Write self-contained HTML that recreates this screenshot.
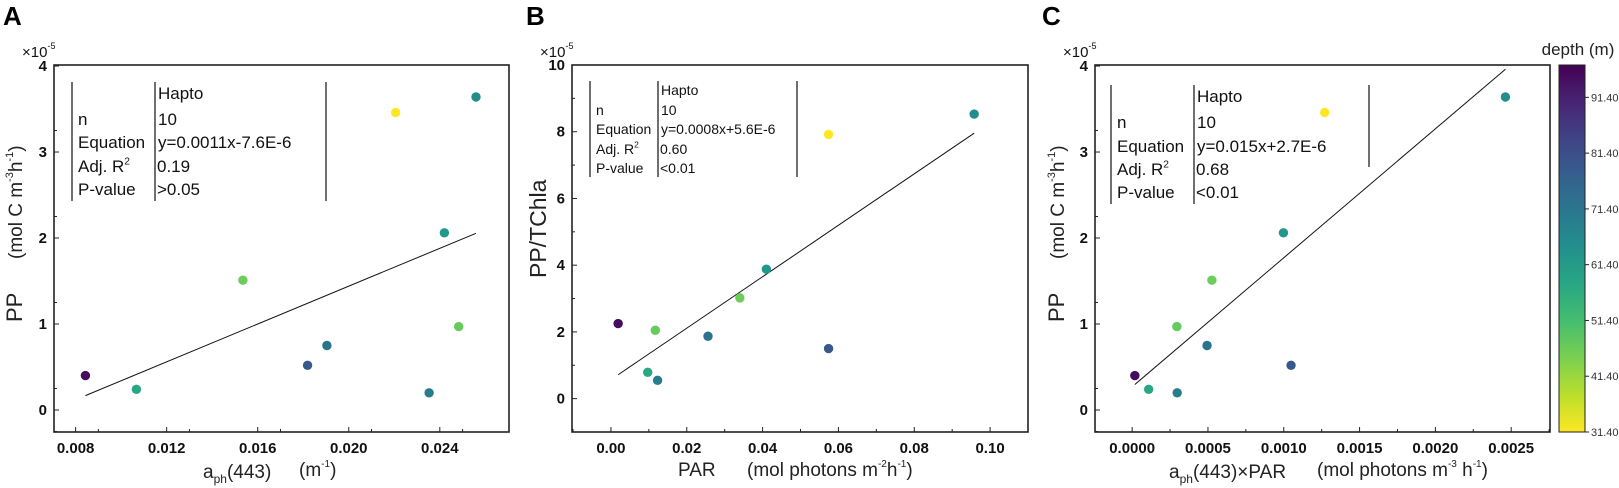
<!DOCTYPE html>
<html><head><meta charset="utf-8">
<style>
html,body{margin:0;padding:0;background:#fff;}
svg{display:block;font-family:"Liberation Sans",sans-serif;}
.tk{font-weight:bold;font-size:15px;fill:#111;}
.st{fill:#111;}
</style></head>
<body>
<svg id="fig" width="1619" height="488" viewBox="0 0 1619 488" xmlns="http://www.w3.org/2000/svg">
  <text x="3" y="25" font-size="26" font-weight="bold">A</text>
  <text x="526" y="25" font-size="26" font-weight="bold">B</text>
  <text x="1042" y="25" font-size="26" font-weight="bold">C</text>
</svg>
<script>
// ---- data ----
const depth = [95, 58, 46, 79, 72, 31.4, 70, 62, 47, 65];
const ppValues = [0.40, 0.24, 1.51, 0.52, 0.75, 3.46, 0.20, 2.06, 0.97, 3.64];
const aphValues = [0.00843, 0.01067, 0.01535, 0.01819, 0.01904, 0.02206, 0.02353, 0.02420, 0.02483, 0.02559];
const parValues = [0.0019, 0.0097, 0.0340, 0.0574, 0.0256, 0.0574, 0.0123, 0.0410, 0.0117, 0.0958];
const ppChlValues = [2.25, 0.79, 3.02, 1.50, 1.87, 7.92, 0.55, 3.88, 2.05, 8.53];
const aphParValues = [0.0000178, 0.000109, 0.000526, 0.001048, 0.000494, 0.00127, 0.000297, 0.000998, 0.000295, 0.002462];
const fitA = [110, -0.76];
const fitB = [77.1, 0.57];
const fitC = [1500, 0.27];
const ticksAx = ["0.008","0.012","0.016","0.020","0.024"];
const ticksBx = ["0.00","0.02","0.04","0.06","0.08","0.10"];
const ticksCx = ["0.0000","0.0005","0.0010","0.0015","0.0020","0.0025"];
const ticksPPy = ["0","1","2","3","4"];
const ticksBy = ["0","2","4","6","8","10"];
const cbTicks = ["31.40","41.40","51.40","61.40","71.40","81.40","91.40"];
const depthRange = [31.4, 97.2];

const NS = "http://www.w3.org/2000/svg";
const svg = document.getElementById('fig');
function mk(tag, attrs, parent, txt){
  const e = document.createElementNS(NS, tag);
  for (const k in attrs) e.setAttribute(k, attrs[k]);
  if (txt !== undefined) e.textContent = txt;
  (parent||svg).appendChild(e);
  return e;
}
const vir = [[68,1,84],[72,40,120],[62,74,137],[49,104,142],[38,130,142],[31,158,137],[53,183,121],[109,205,89],[180,222,44],[253,231,37]];
function viridis(t){
  t=Math.max(0,Math.min(1,t));
  const p=t*(vir.length-1), i=Math.min(vir.length-2,Math.floor(p)), f=p-i;
  const c=vir[i].map((v,k)=>Math.round(v+(vir[i+1][k]-v)*f));
  return `rgb(${c[0]},${c[1]},${c[2]})`;
}
function depthColor(d){ return viridis((depthRange[1]-d)/(depthRange[1]-depthRange[0])); }

function panel(cfg){
  const g = mk('g', {});
  
  
  const X = v => cfg.x0 + (v - cfg.xmin) / (cfg.xmax - cfg.xmin) * (cfg.x1 - cfg.x0);
  const Y = v => cfg.y1 - (v - cfg.ymin) / (cfg.ymax - cfg.ymin) * (cfg.y1 - cfg.y0);
  const tg = mk('g', {stroke:'#222','stroke-width':1}, g);
  cfg.xt.forEach((lab,i)=>{
    const v = parseFloat(lab); const px = X(v);
    mk('line',{x1:px,x2:px,y1:cfg.y1,y2:cfg.y1-5},tg);
    const t = mk('text',{x:px,y:cfg.y1+21,'text-anchor':'middle','class':'tk'},g,lab);
    
    
    const m = X(v + cfg.xstep/2); if (m < cfg.x1) mk('line',{x1:m,x2:m,y1:cfg.y1,y2:cfg.y1-3},tg);
  });
  const mfirst = X(parseFloat(cfg.xt[0]) - cfg.xstep/2); if (mfirst > cfg.x0) mk('line',{x1:mfirst,x2:mfirst,y1:cfg.y1,y2:cfg.y1-3},tg);
  cfg.yt.forEach(lab=>{
    const v = parseFloat(lab); const py = Y(v);
    mk('line',{x1:cfg.x0,x2:cfg.x0+5,y1:py,y2:py},tg);
    const t = mk('text',{x:cfg.x0-7,y:py+5,'text-anchor':'end','class':'tk'},g,lab);
    
    
    const m = Y(v + cfg.ystep/2); if (m > cfg.y0) mk('line',{x1:cfg.x0,x2:cfg.x0+3,y1:m,y2:m},tg);
  });
  const mlow = Y(parseFloat(cfg.yt[0]) - cfg.ystep/2); if (mlow < cfg.y1) mk('line',{x1:cfg.x0,x2:cfg.x0+3,y1:mlow,y2:mlow},tg);
  const fr = mk('rect',{x:cfg.x0,y:cfg.y0,width:cfg.x1-cfg.x0,height:cfg.y1-cfg.y0,fill:'none',stroke:'#222','stroke-width':1.6},g);
  
  
  const xs = cfg.xs, ys = cfg.ys;
  const lo = Math.min(...xs), hi = Math.max(...xs);
  const fl = mk('line',{x1:X(lo),y1:Y(cfg.fit[0]*lo+cfg.fit[1]),x2:X(hi),y2:Y(cfg.fit[0]*hi+cfg.fit[1]),stroke:'#111','stroke-width':1},g);
  
  
  xs.forEach((xv,i)=>{
    const c = mk('circle',{cx:X(xv),cy:Y(ys[i]),r:4.7,fill:depthColor(depth[i])},g);
    
    
  });
  const mt = mk('text',{x:cfg.x0-32,y:57,'font-size':15,fill:'#111'},g);
  mt.innerHTML = '×10<tspan font-size="9" dy="-8">-5</tspan>';
  
  
  const s = cfg.stats;
  const sb = mk('g',{},g);
  
  
  mk('line',{x1:s.l1,x2:s.l1,y1:s.top,y2:s.bot,stroke:'#222','stroke-width':1.3},sb);
  mk('line',{x1:s.l2,x2:s.l2,y1:s.top,y2:s.bot,stroke:'#222','stroke-width':1.3},sb);
  mk('line',{x1:s.l3,x2:s.l3,y1:s.top,y2:s.bot3||s.bot,stroke:'#222','stroke-width':1.3},sb);
  const fs = s.fs;
  mk('text',{x:s.l2+3,y:s.rows[0],'font-size':fs,'class':'st'},sb,'Hapto');
  mk('text',{x:s.l1+6,y:s.rows[1],'font-size':fs,'class':'st'},sb,'n');
  mk('text',{x:s.l2+3,y:s.rows[1],'font-size':fs,'class':'st'},sb,'10');
  mk('text',{x:s.l1+6,y:s.rows[2],'font-size':fs,'class':'st'},sb,'Equation');
  mk('text',{x:s.l2+3,y:s.rows[2],'font-size':fs,'class':'st'},sb,s.eq);
  const ar = mk('text',{x:s.l1+6,y:s.rows[3],'font-size':fs,'class':'st'},sb);
  ar.innerHTML = 'Adj. R<tspan font-size="'+(fs*0.6)+'" dy="-'+(fs*0.45)+'">2</tspan>';
  mk('text',{x:s.l2+2,y:s.rows[3],'font-size':fs,'class':'st'},sb,s.r2);
  mk('text',{x:s.l1+6,y:s.rows[4],'font-size':fs,'class':'st'},sb,'P-value');
  mk('text',{x:s.l2+2,y:s.rows[4],'font-size':fs,'class':'st'},sb,s.p);
  return {X,Y};
}

panel({name:'panel-a', x0:54,x1:509,y0:65,y1:432, xmin:0.00705,xmax:0.02704, ymin:-0.256,ymax:4.012,
  xt:ticksAx, xstep:0.002, yt:ticksPPy, ystep:0.5, xs:aphValues, ys:ppValues, fit:fitA,
  stats:{l1:72,l2:155,l3:326,top:82,bot:201,fs:17,rows:[99,125,148,172,195],eq:'y=0.0011x-7.6E-6',r2:'0.19',p:'>0.05'}});
panel({name:'panel-b', x0:572,x1:1028,y0:65,y1:432, xmin:-0.01027,xmax:0.1100, ymin:-1,ymax:10,
  xt:ticksBx, xstep:0.02, yt:ticksBy, ystep:2, xs:parValues, ys:ppChlValues, fit:fitB,
  stats:{l1:590,l2:658,l3:797,top:81,bot:177,fs:14,rows:[95,115,134,154,173],eq:'y=0.0008x+5.6E-6',r2:'0.60',p:'<0.01'}});
panel({name:'panel-c', x0:1095,x1:1550,y0:65,y1:432, xmin:-0.000245,xmax:0.002756, ymin:-0.256,ymax:4.012,
  xt:ticksCx, xstep:0.0005, yt:ticksPPy, ystep:0.5, xs:aphParValues, ys:ppValues, fit:fitC,
  stats:{l1:1111,l2:1194,l3:1369,top:85,bot:204,bot3:167,fs:17,rows:[102,128,152,175,198],eq:'y=0.015x+2.7E-6',r2:'0.68',p:'<0.01'}});

function label(html, x, y, rot, fs, name, anchor){
  const t = mk('text',{x:x,y:y,'font-size':fs,fill:'#222','text-anchor':anchor||'start'});
  if (rot) t.setAttribute('transform','rotate(-90 '+x+' '+y+')');
  t.innerHTML = html;
  
  
}
label('a<tspan font-size="12" dy="5">ph</tspan><tspan dy="-5">(443)</tspan>', 203, 478, false, 19, 'x-axis-title-a');
label('(m<tspan font-size="10" dy="-9">-1</tspan><tspan dy="9">)</tspan>', 299, 476, false, 19, 'x-axis-unit-a');
label('PP', 22, 322, true, 22, 'y-axis-title-a');
label('(mol C m<tspan font-size="11" dy="-9">-3</tspan><tspan dy="9">h</tspan><tspan font-size="11" dy="-9">-1</tspan><tspan dy="9">)</tspan>', 22, 259, true, 19, 'y-axis-unit-a');
label('PAR', 678, 476, false, 19, 'x-axis-title-b');
label('(mol photons m<tspan font-size="10" dy="-9">-2</tspan><tspan dy="9">h</tspan><tspan font-size="10" dy="-9">-1</tspan><tspan dy="9">)</tspan>', 747, 476, false, 19, 'x-axis-unit-b');
label('PP/TChla', 546, 278, true, 23, 'y-axis-title-b');
label('a<tspan font-size="12" dy="5">ph</tspan><tspan dy="-5">(443)×PAR</tspan>', 1169, 478, false, 19, 'x-axis-title-c');
label('(mol photons m<tspan font-size="10" dy="-9">-3</tspan><tspan dy="9"> h</tspan><tspan font-size="10" dy="-9">-1</tspan><tspan dy="9">)</tspan>', 1317, 476, false, 19, 'x-axis-unit-c');
label('PP', 1064, 322, true, 22, 'y-axis-title-c');
label('(mol C m<tspan font-size="11" dy="-9">-3</tspan><tspan dy="9">h</tspan><tspan font-size="11" dy="-9">-1</tspan><tspan dy="9">)</tspan>', 1064, 259, true, 19, 'y-axis-unit-c');

const cbX = 1559, cbW = 26, cbY0 = 65, cbY1 = 432;
const defs = mk('defs',{});
const grad = mk('linearGradient',{id:'vg',x1:0,y1:1,x2:0,y2:0},defs);
for (let i=0;i<=10;i++){ mk('stop',{offset:(i/10),'stop-color':viridis(1-i/10)},grad); }
const cb = mk('rect',{x:cbX,y:cbY0,width:cbW,height:cbY1-cbY0,fill:'url(#vg)',stroke:'#222','stroke-width':1});


const CY = v => cbY1 - (v - depthRange[0])/(depthRange[1]-depthRange[0])*(cbY1-cbY0);
cbTicks.forEach(lab=>{
  const py = CY(parseFloat(lab));
  mk('line',{x1:cbX+cbW,x2:cbX+cbW+4,y1:py,y2:py,stroke:'#222','stroke-width':1});
  const t = mk('text',{x:cbX+cbW+6,y:py+4,'font-size':11,fill:'#333'},svg,lab);
  
  
});
const cbt = mk('text',{x:1578,y:55,'font-size':17,fill:'#222','text-anchor':'middle'},svg,'depth (m)');


</script>
</body></html>
